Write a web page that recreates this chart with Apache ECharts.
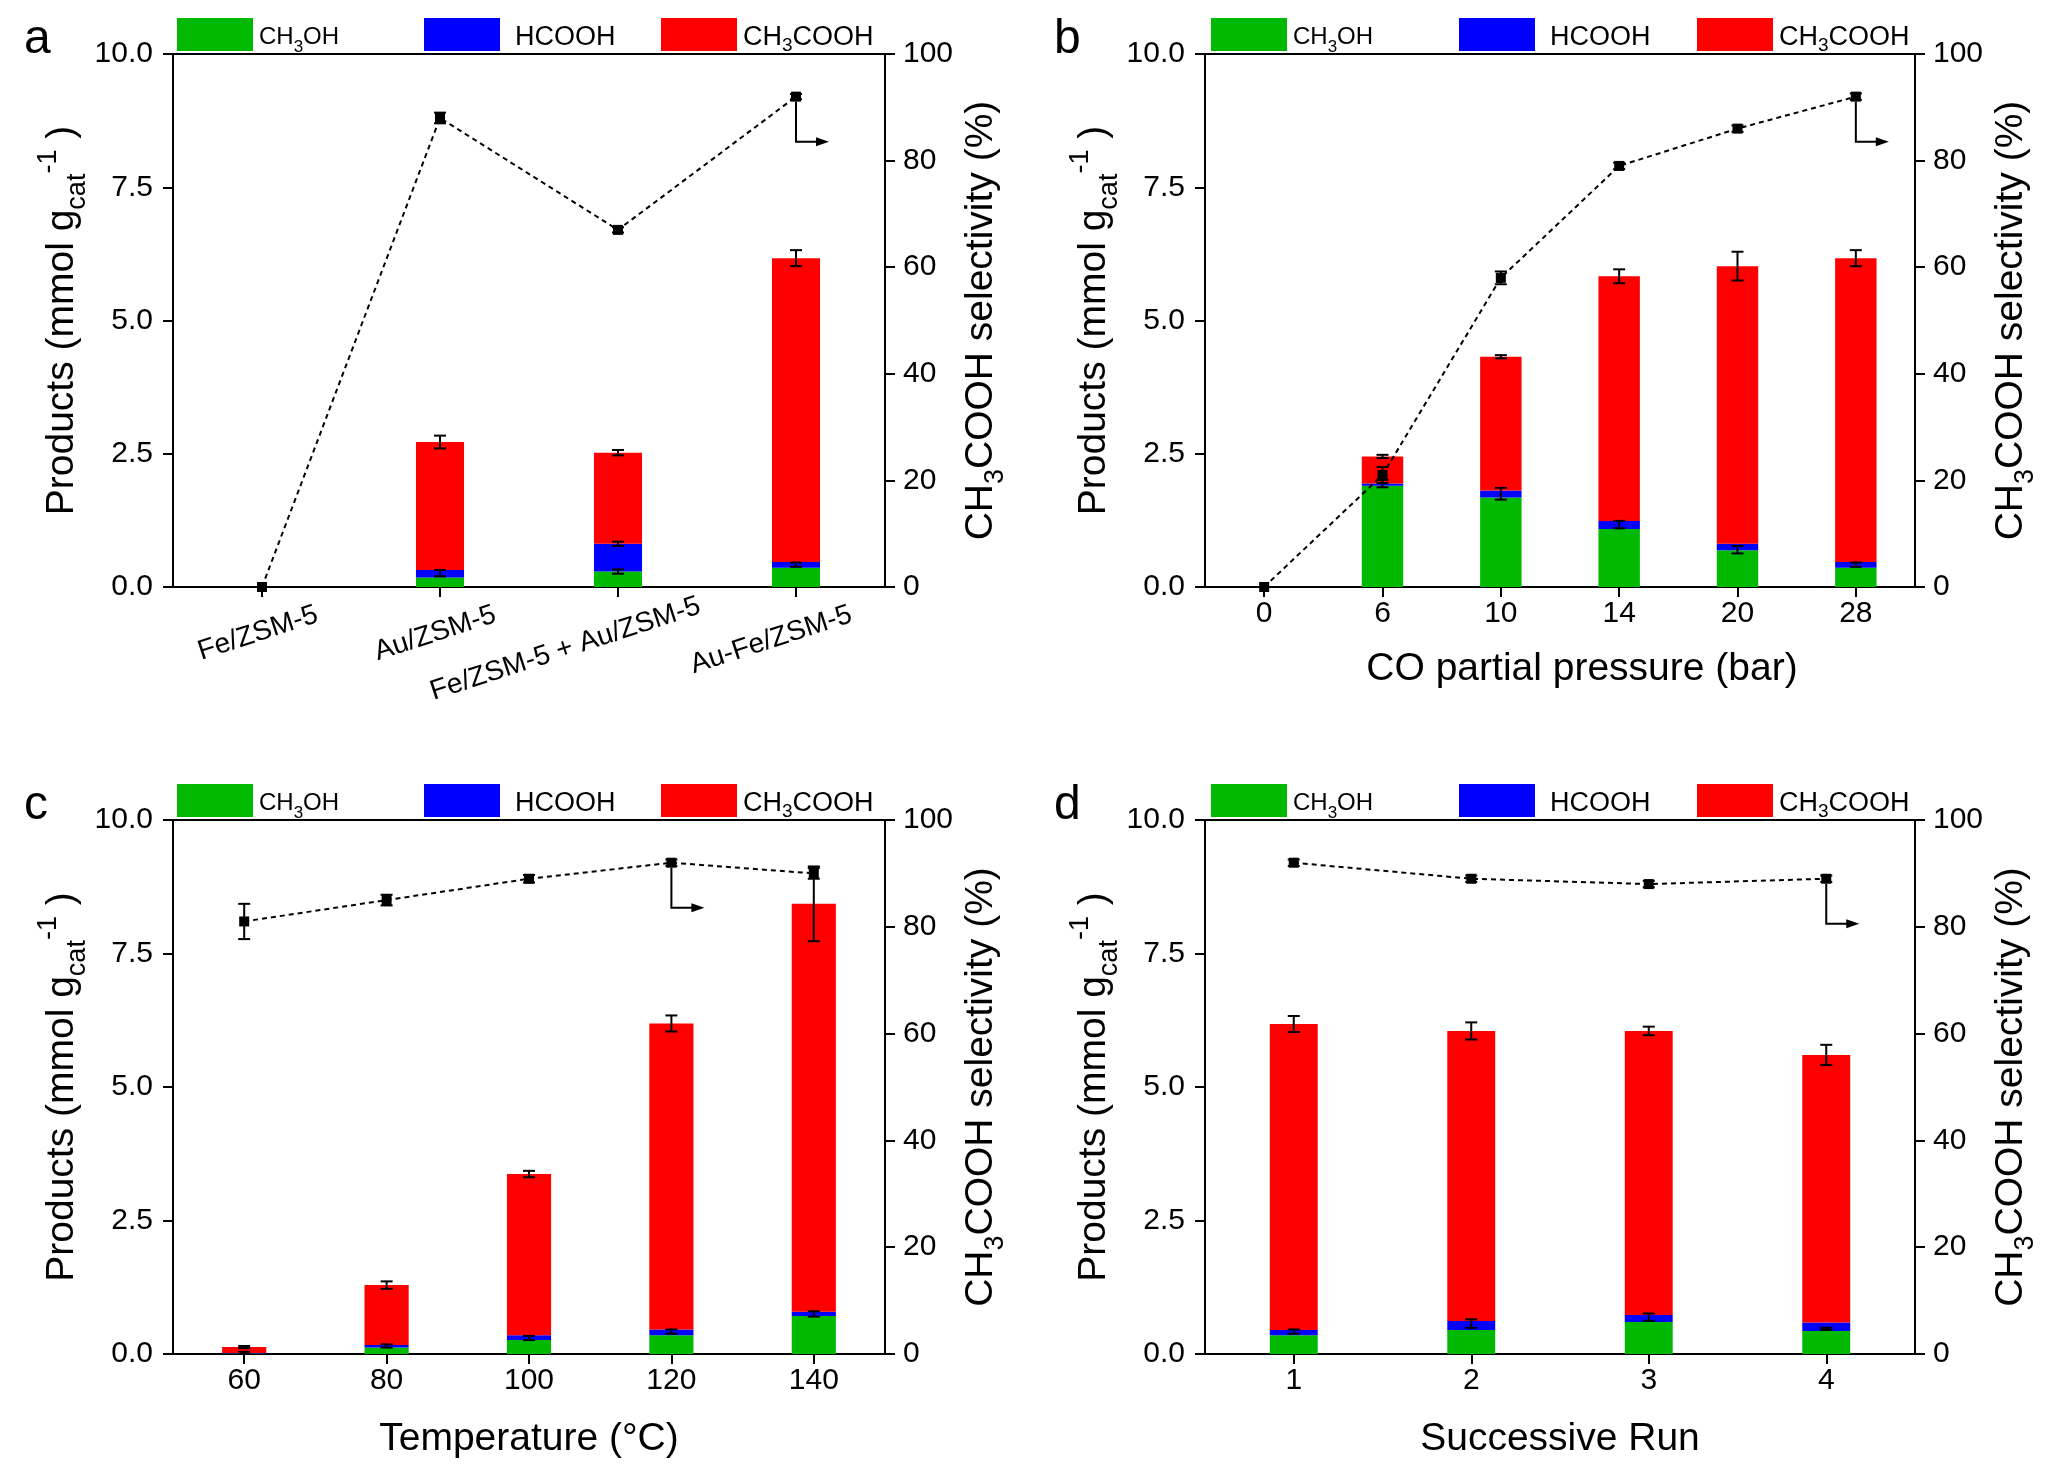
<!DOCTYPE html>
<html><head><meta charset="utf-8">
<script src="https://cdn.jsdelivr.net/npm/echarts/dist/echarts.min.js"></script>
<style>html,body{margin:0;padding:0;background:#fff}#c{width:2048px;height:1474px}</style>
</head><body><div id="c"></div>
<script>
// ---------- data ----------
const seriesNames = ['CH3OH', 'HCOOH', 'CH3COOH'];

// panel a
const catsA = ['Fe/ZSM-5', 'Au/ZSM-5', 'Fe/ZSM-5 + Au/ZSM-5', 'Au-Fe/ZSM-5'];
const ch3ohA = [0, 0.18, 0.29, 0.36];
const hcoohA = [0, 0.14, 0.52, 0.11];
const aceticA = [0, 2.40, 1.71, 5.70];
const totErrA = [0, 0.12, 0.05, 0.15];
const lowErrA = [[1, 0.26, 0.06], [2, 0.29, 0.04], [2, 0.81, 0.04], [3, 0.42, 0.04]];
const selA = [0, 88, 67, 92];
const selErrA = [0, 1.0, 0.5, 0.5];

// panel b
const catsB = ['0', '6', '10', '14', '20', '28'];
const ch3ohB = [0, 1.90, 1.68, 1.09, 0.69, 0.36];
const hcoohB = [0, 0.04, 0.13, 0.15, 0.12, 0.11];
const aceticB = [0, 0.51, 2.51, 4.59, 5.21, 5.70];
const totErrB = [0, 0.03, 0.03, 0.13, 0.27, 0.15];
const lowErrB = [[1, 1.94, 0.07], [2, 1.75, 0.11], [3, 1.17, 0.07], [4, 0.70, 0.07], [5, 0.42, 0.04]];
const selB = [0, 21, 58, 79, 86, 92];
const selErrB = [0, 1.5, 1.2, 0.6, 0.6, 0.6];

// panel c
const catsC = ['60', '80', '100', '120', '140'];
const ch3ohC = [0.01, 0.12, 0.26, 0.35, 0.71];
const hcoohC = [0.01, 0.05, 0.09, 0.11, 0.08];
const aceticC = [0.11, 1.12, 3.02, 5.73, 7.64];
const totErrC = [0.02, 0.07, 0.06, 0.15, 0.70];
const lowErrC = [[0, 0.02, 0.02], [1, 0.15, 0.03], [2, 0.30, 0.04], [3, 0.42, 0.04], [4, 0.75, 0.05]];
const selC = [81, 85, 89, 92, 90];
const selErrC = [3.3, 1.0, 0.7, 0.6, 1.0];

// panel d
const catsD = ['1', '2', '3', '4'];
const ch3ohD = [0.35, 0.45, 0.60, 0.43];
const hcoohD = [0.10, 0.17, 0.13, 0.16];
const aceticD = [5.73, 5.43, 5.32, 5.01];
const totErrD = [0.15, 0.16, 0.08, 0.19];
const lowErrD = [[0, 0.42, 0.04], [1, 0.57, 0.08], [2, 0.69, 0.07], [3, 0.47, 0.02]];
const selD = [92, 89, 88, 89];
const selErrD = [0.6, 0.6, 0.6, 0.6];

// ---------- style / layout ----------
const FONT = '"Liberation Sans", Arial, Helvetica, sans-serif';
const COLORS = ['#00b900', '#0000ff', '#ff0000'];
const labelShiftA = [58, 58, 86, 58]; // rotated label nudges (px) for panel a
const panels = [
  { letter: 'a', cats: catsA, vals: [ch3ohA, hcoohA, aceticA], totErr: totErrA, lowErr: lowErrA, sel: selA, selErr: selErrA, arrowIdx: 3,
    grid: { left: 173, top: 54, width: 712, height: 533 }, barWidth: '27%', xName: '', rotate: 18, labelShift: labelShiftA, legendX: [177, 424, 661], letterX: 24 },
  { letter: 'b', cats: catsB, vals: [ch3ohB, hcoohB, aceticB], totErr: totErrB, lowErr: lowErrB, sel: selB, selErr: selErrB, arrowIdx: 5,
    grid: { left: 1205, top: 54, width: 710, height: 533 }, barWidth: '35%', xName: 'CO partial pressure (bar)', nameGap: 63, namePad: [0, 0, 0, 44], rotate: 0, legendX: [1211, 1459, 1697], letterX: 1054 },
  { letter: 'c', cats: catsC, vals: [ch3ohC, hcoohC, aceticC], totErr: totErrC, lowErr: lowErrC, sel: selC, selErr: selErrC, arrowIdx: 3,
    grid: { left: 173, top: 820, width: 712, height: 534 }, barWidth: '31%', xName: 'Temperature (°C)', nameGap: 66, rotate: 0, legendX: [177, 424, 661], letterX: 24 },
  { letter: 'd', cats: catsD, vals: [ch3ohD, hcoohD, aceticD], totErr: totErrD, lowErr: lowErrD, sel: selD, selErr: selErrD, arrowIdx: 3,
    grid: { left: 1205, top: 820, width: 710, height: 534 }, barWidth: '27%', xName: 'Successive Run', nameGap: 66, rotate: 0, legendX: [1211, 1459, 1697], letterX: 1054 }
];

const legendFont = [24, 27, 27];
const legendText = { CH3OH: '{n|CH}{s|3}{n|OH}', HCOOH: '{n|HCOOH}', CH3COOH: '{n|CH}{s|3}{n|COOH}' };
function legendRich(fs) {
  return {
    n: { fontSize: fs, fontFamily: FONT, color: '#000', lineHeight: 36 },
    s: { fontSize: Math.round(fs * 0.72), fontFamily: FONT, color: '#000', lineHeight: Math.round(fs * 0.72), verticalAlign: 'bottom' }
  };
}
const nameRich = {
  n: { fontSize: 39, fontFamily: FONT, color: '#000', lineHeight: 56 },
  sub: { fontSize: 27, fontFamily: FONT, color: '#000', lineHeight: 27, verticalAlign: 'bottom' },
  sup: { fontSize: 27, fontFamily: FONT, color: '#000', lineHeight: 27, verticalAlign: 'top' }
};

function errRender(params, api) {
  const x = api.value(0);
  const p1 = api.coord([x, api.value(1)]);
  const p2 = api.coord([x, api.value(2)]);
  const w = 6;
  const st = { stroke: '#000', lineWidth: 2 };
  return { type: 'group', children: [
    { type: 'line', shape: { x1: p1[0], y1: p1[1], x2: p2[0], y2: p2[1] }, style: st },
    { type: 'line', shape: { x1: p1[0] - w, y1: p1[1], x2: p1[0] + w, y2: p1[1] }, style: st },
    { type: 'line', shape: { x1: p2[0] - w, y1: p2[1], x2: p2[0] + w, y2: p2[1] }, style: st }
  ] };
}
function arrowRender(params, api) {
  const p = api.coord([api.value(0), api.value(1)]);
  const x = p[0], y0 = p[1] + 5, y1 = p[1] + 45, x2 = x + 33;
  return { type: 'group', children: [
    { type: 'polyline', shape: { points: [[x, y0], [x, y1], [x2 - 10, y1]] }, style: { stroke: '#000', lineWidth: 2, fill: null } },
    { type: 'polygon', shape: { points: [[x2, y1], [x2 - 13, y1 - 4.5], [x2 - 13, y1 + 4.5]] }, style: { fill: '#000' } }
  ] };
}

const option = { animation: false, backgroundColor: '#fff', grid: [], xAxis: [], yAxis: [], legend: [], series: [], graphic: [] };
const axisLineStyle = { color: '#000', width: 2 };

panels.forEach((p, g) => {
  option.grid.push(Object.assign({ show: true, borderColor: '#000', borderWidth: 2, backgroundColor: 'transparent' }, p.grid));
  const xData = p.labelShift ? p.cats.map((c, i) => ({ value: c, textStyle: { padding: [0, -p.labelShift[i], 0, 0] } })) : p.cats;
  option.xAxis.push({
    type: 'category', gridIndex: g, data: xData, boundaryGap: true,
    axisLine: { lineStyle: axisLineStyle },
    axisTick: { show: true, alignWithLabel: true, length: 10, lineStyle: axisLineStyle },
    axisLabel: p.rotate ? { interval: 0, rotate: p.rotate, fontSize: 28, color: '#000', fontFamily: FONT, margin: 45 }
                        : { interval: 0, fontSize: 30, color: '#000', fontFamily: FONT, margin: 12 },
    name: p.xName, nameLocation: 'middle', nameGap: p.nameGap || 60,
    nameTextStyle: { fontSize: 39, color: '#000', fontFamily: FONT, padding: p.namePad || 0 }
  });
  option.yAxis.push({
    type: 'value', gridIndex: g, position: 'left', min: 0, max: 10, interval: 2.5,
    axisLine: { show: true, lineStyle: axisLineStyle },
    axisTick: { show: true, length: 10, lineStyle: axisLineStyle },
    axisLabel: { formatter: v => v.toFixed(1), fontSize: 30, color: '#000', fontFamily: FONT, margin: 20 },
    splitLine: { show: false },
    name: '{n|Products (mmol g}{sub|cat}{sup|-1}{n| )}', nameLocation: 'middle', nameRotate: 90, nameGap: 72,
    nameTextStyle: { rich: nameRich, fontSize: 39, fontFamily: FONT, color: '#000' }
  });
  option.yAxis.push({
    type: 'value', gridIndex: g, position: 'right', min: 0, max: 100, interval: 20,
    axisLine: { show: true, lineStyle: axisLineStyle },
    axisTick: { show: true, length: 10, lineStyle: axisLineStyle },
    axisLabel: { fontSize: 30, color: '#000', fontFamily: FONT, margin: 18 },
    splitLine: { show: false },
    name: '{n|CH}{sub|3}{n|COOH selectivity (%)}', nameLocation: 'middle', nameRotate: 90, nameGap: 68,
    nameTextStyle: { rich: nameRich, fontSize: 39, fontFamily: FONT, color: '#000' }
  });
  const L = 2 * g, R = 2 * g + 1;
  seriesNames.forEach((nm, k) => {
    option.series.push({ type: 'bar', name: nm, xAxisIndex: g, yAxisIndex: L, stack: 'st' + g, data: p.vals[k],
      barWidth: p.barWidth, itemStyle: { color: COLORS[k] }, emphasis: { disabled: true }, z: 2 });
    option.legend.push({ left: p.legendX[k], top: p.grid.top - 36, padding: 0, selectedMode: false,
      data: [{ name: nm, icon: 'rect' }], itemWidth: 76, itemHeight: 33,
      formatter: n => legendText[n],
      textStyle: { rich: legendRich(legendFont[k]), fontSize: legendFont[k], fontFamily: FONT, color: '#000',
        padding: k === 1 ? [6, 0, 0, 10] : [6, 0, 0, 1] } });
  });
  const totals = p.cats.map((c, i) => p.vals[0][i] + p.vals[1][i] + p.vals[2][i]);
  const totErrData = totals.map((t, i) => [i, t - p.totErr[i], t + p.totErr[i]]).filter((d, i) => p.totErr[i] > 0);
  const lowErrData = p.lowErr.map(e => [e[0], e[1] - e[2], e[1] + e[2]]);
  option.series.push({ type: 'custom', xAxisIndex: g, yAxisIndex: L, renderItem: errRender, data: totErrData.concat(lowErrData),
    encode: { x: 0, y: [1, 2] }, z: 4, silent: true });
  option.series.push({ type: 'line', name: 'sel' + g, xAxisIndex: g, yAxisIndex: R, data: p.sel, symbol: 'rect', symbolSize: 10,
    itemStyle: { color: '#000' }, lineStyle: { color: '#000', width: 2, type: [5, 4] }, z: 6, clip: false, emphasis: { disabled: true } });
  const selErrData = p.sel.map((s, i) => [i, s - p.selErr[i], s + p.selErr[i]]).filter((d, i) => p.selErr[i] > 0);
  option.series.push({ type: 'custom', xAxisIndex: g, yAxisIndex: R, renderItem: errRender, data: selErrData,
    encode: { x: 0, y: [1, 2] }, z: 5, silent: true });
  option.series.push({ type: 'custom', xAxisIndex: g, yAxisIndex: R, renderItem: arrowRender,
    data: [[p.arrowIdx, p.sel[p.arrowIdx]]], encode: { x: 0, y: 1 }, z: 5, silent: true, clip: false });
  option.graphic.push({ type: 'text', left: p.letterX, top: p.grid.top - 38,
    style: { text: p.letter, font: '48px ' + FONT, fill: '#000' } });
});

const chart = echarts.init(document.getElementById('c'), null, { renderer: 'canvas' });
chart.setOption(option);
</script></body></html>
